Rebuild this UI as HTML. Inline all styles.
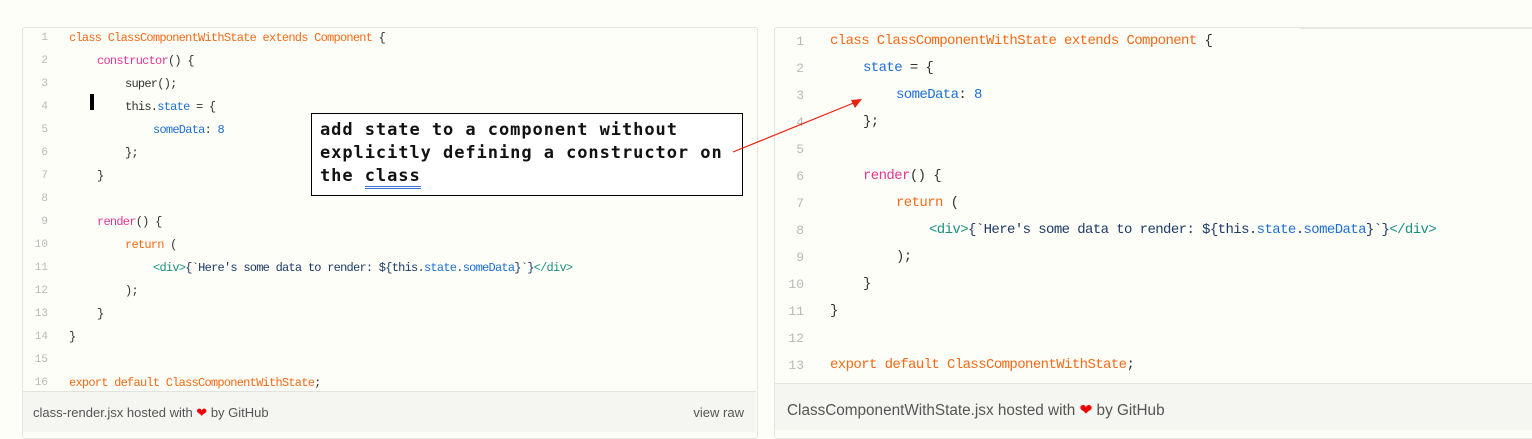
<!DOCTYPE html>
<html><head><meta charset="utf-8"><style>
body{margin:0;width:1532px;height:428px;background:#fefef8;position:relative;overflow:hidden;font-family:"Liberation Mono",monospace}
.p{position:absolute;background:#fefef9;border:1px solid #e4e4e0;border-radius:3px}
.l{position:absolute;white-space:pre;color:#333}
.n{position:absolute;color:#b8b8b8;text-align:right;letter-spacing:0}
.o{color:#f26a16}.k{color:#e8368f}.b{color:#1c6fd6}.t{color:#1a8f7e}.s{color:#1d3a66}
.f{position:absolute;background:#f5f5f2;border-top:1px solid #e2e2de;font-family:"Liberation Sans",sans-serif;color:#555}
#L .l{font-size:12px;letter-spacing:-0.75px}
#R .l{font-size:14px;letter-spacing:-0.6px}
#L .n{font-size:11px}
#R .n{font-size:13px}
</style></head><body>
<div class="p" style="left:22px;top:27px;width:734px;height:410px"></div>
<div class="p" style="left:774px;top:27px;width:770px;height:410px"></div>
<div style="position:absolute;left:1300px;top:27px;width:232px;height:2px;background:#e6e6e4"></div>

<div id="L"></div>
<div id="R"></div>

<div class="f" style="left:23px;top:391px;width:733px;height:40px;font-size:13px">
<span style="position:absolute;left:10px;top:13px">class-render.jsx hosted with <span style="color:#e00">&#10084;</span> by GitHub</span>
<span style="position:absolute;right:12px;top:13px">view raw</span></div>
<div class="f" style="left:775px;top:383px;width:760px;height:46px;font-size:15.3px">
<span style="position:absolute;left:12px;top:17px">ClassComponentWithState.jsx hosted with <span style="color:#e00">&#10084;</span> by GitHub</span></div>

<div style="position:absolute;left:90px;top:94px;width:4px;height:16px;background:#000"></div>

<div style="position:absolute;left:311px;top:113px;width:430px;height:81px;border:1px solid #000;background:#fff"></div>
<div style="position:absolute;left:320px;top:119px;font-size:17px;font-weight:bold;line-height:23px;color:#111;white-space:pre;font-family:'DejaVu Sans Mono',monospace;letter-spacing:0.95px">add state to a component without
explicitly defining a constructor on
the <span style="border-bottom:3px double #3a6fd0">class</span></div>
<svg style="position:absolute;left:0;top:0" width="1532" height="428"><line x1="733" y1="152" x2="856" y2="102" stroke="#e8220e" stroke-width="1.2"/><polygon points="862,99 851,100 855,108" fill="#e8220e"/></svg>

<script>
function build(id,lines,x0,nx,y0,dy,ind){var h='';lines.forEach(function(a,i){var y=y0+i*dy;h+='<div class="n" style="left:'+(nx-20)+'px;width:20px;top:'+y+'px">'+(i+1)+'</div>';if(a[1])h+='<div class="l" style="left:'+(x0+a[0]*ind)+'px;top:'+(y-1)+'px">'+a[1]+'</div>';});document.getElementById(id).innerHTML=h;}
var tpl='<span class="t">&lt;div&gt;</span><span class="s">{`Here\'s some data to render: ${this.</span><span class="b">state</span><span class="s">.</span><span class="b">someData</span><span class="s">}`}</span><span class="t">&lt;/div&gt;</span>';
build('L',[[0,'<span class="o">class ClassComponentWithState extends Component</span> {'],[1,'<span class="k">constructor</span>() {'],[2,'super();'],[2,'this.<span class="b">state</span> = {'],[3,'<span class="b">someData</span>: <span class="b">8</span>'],[2,'};'],[1,'}'],[0,''],[1,'<span class="k">render</span>() {'],[2,'<span class="o">return</span> ('],[3,tpl],[2,');'],[1,'}'],[0,'}'],[0,''],[0,'<span class="o">export default ClassComponentWithState</span>;']],69,48,32,23,28);
build('R',[[0,'<span class="o">class ClassComponentWithState extends Component</span> {'],[1,'<span class="b">state</span> = {'],[2,'<span class="b">someData</span>: <span class="b">8</span>'],[1,'};'],[0,''],[1,'<span class="k">render</span>() {'],[2,'<span class="o">return</span> ('],[3,tpl],[2,');'],[1,'}'],[0,'}'],[0,''],[0,'<span class="o">export default ClassComponentWithState</span>;']],830,804,34,27,33);
</script>
</body></html>
